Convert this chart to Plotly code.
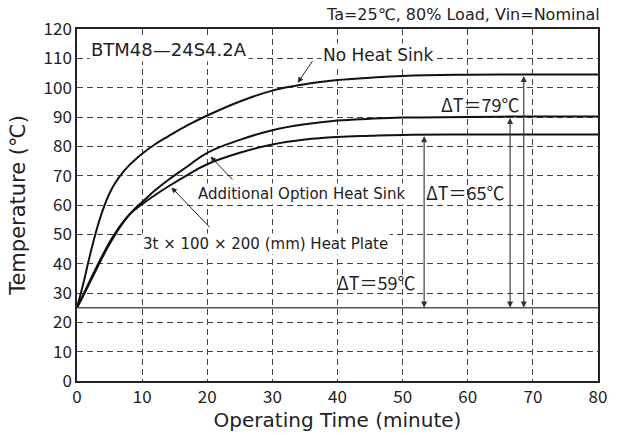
import plotly.graph_objects as go

# ---- data ----
time_min = [0, 1, 2, 3, 4, 5, 6, 7, 8, 9, 10, 12, 14, 17, 20, 25, 30, 35, 40, 45, 50, 60, 70, 80]
no_heat_sink = [25, 33.5, 43, 51.5, 58.5, 64, 68, 71, 73.5, 75.6, 77.5, 80.7, 83.4, 87.2, 90.5, 95.3, 99, 101.2, 102.6, 103.4, 104, 104.4, 104.5, 104.5]
additional_sink = [25, 29.2, 33.7, 38.2, 42.6, 46.7, 50.4, 53.7, 56.6, 59, 61, 65, 68.5, 73.2, 77.8, 82.2, 85.5, 87.5, 88.8, 89.4, 89.8, 90, 90.2, 90.2]
heat_plate = [25, 29.6, 34.3, 38.8, 43.2, 47.3, 50.9, 54, 56.6, 58.6, 60.3, 63.4, 66.3, 70.3, 73.9, 77.8, 80.6, 82.3, 83.2, 83.6, 83.9, 84, 84, 84]
ambient_time = [0, 80]
ambient_temp = [25, 25]
x_ticks = [0, 10, 20, 30, 40, 50, 60, 70, 80]
y_ticks = [0, 10, 20, 30, 40, 50, 60, 70, 80, 90, 100, 110, 120]
delta_labels = ["ΔT＝79℃", "ΔT＝65℃", "ΔT＝59℃"]

FONT = "Noto Sans CJK JP"
TFONT = "DejaVu Sans"
fig = go.Figure()

for ys in (no_heat_sink, additional_sink, heat_plate):
    fig.add_trace(go.Scatter(x=time_min, y=ys, mode="lines",
                             line=dict(color="#111111", width=2, shape="spline", smoothing=1.2),
                             hoverinfo="skip", showlegend=False))
fig.add_trace(go.Scatter(x=ambient_time, y=ambient_temp, mode="lines",
                         line=dict(color="#555555", width=1.5), hoverinfo="skip", showlegend=False))

ann = []
# ΔT double arrows
for xpos, top in ((68.6, no_heat_sink[-1]), (66.5, additional_sink[-1]), (53.3, heat_plate[-1])):
    ann.append(dict(x=xpos, y=ambient_temp[0], ax=xpos, ay=top, xref="x", yref="y", axref="x", ayref="y",
                    showarrow=True, arrowhead=2, startarrowhead=2, arrowside="end+start",
                    arrowsize=1.1, startarrowsize=1.1, arrowwidth=1.1, arrowcolor="#333333", text=""))
# ΔT labels
for lab, xr, yv in zip(delta_labels, (68.4, 66.1, 52.3), (94.6, 64.3, 33.9)):
    ann.append(dict(x=xr, y=yv, xref="x", yref="y", xanchor="right", yanchor="middle", text=lab,
                    showarrow=False, font=dict(family=FONT, size=18, color="#222222")))

# curve pointer arrows
for hx, hy, tx, ty in ((33.9, 101.7, 36.3, 109.5), (20.5, 76.5, 24.1, 68.2), (14.5, 66.0, 20.6, 51.9)):
    ann.append(dict(x=hx, y=hy, ax=tx, ay=ty, xref="x", yref="y", axref="x", ayref="y",
                    showarrow=True, arrowhead=2, arrowsize=1.1, arrowwidth=1, arrowcolor="#222222", text=""))

texts = [
    ("No Heat Sink", 37.4, 111.2, 17),
    ("Additional Option Heat Sink", 18.2, 63.7, 15),
    ("3t × 100 × 200 (mm) Heat Plate", 9.9, 46.8, 15),
    ("BTM48—24S4.2A", 1.9, 112.9, 18),
]
for t, xv, yv, fs in texts:
    ann.append(dict(x=xv, y=yv, xref="x", yref="y", xanchor="left", yanchor="middle", text=t,
                    showarrow=False, font=dict(family=TFONT, size=fs, color="#222222"),
                    bgcolor="white", borderpad=1))

ann.append(dict(x=1.0, y=1.0, xref="paper", yref="paper", xanchor="right", yanchor="bottom", yshift=3,
                xshift=4, text="Ta=25℃, 80% Load, Vin=Nominal", showarrow=False,
                font=dict(family=TFONT, size=16, color="#222222")))

axis_common = dict(showline=True, linecolor="#222222", linewidth=1.5, mirror=True,
                   showgrid=True, gridcolor="#444444", gridwidth=1, griddash="6px,4px",
                   zeroline=False, ticks="", tickfont=dict(family=FONT, size=17, color="#222222"))

fig.update_xaxes(range=[0, 80], tickvals=x_ticks,
                 title=dict(text="Operating Time (minute)", font=dict(family=TFONT, size=20, color="#222222"),
                            standoff=2),
                 **axis_common)
fig.update_yaxes(range=[0, 120], tickvals=y_ticks,
                 title=dict(text="Temperature (℃)", font=dict(family=TFONT, size=21, color="#222222"),
                            standoff=12),
                 **axis_common)

fig.update_layout(width=618, height=435, margin=dict(l=77, r=11, t=29, b=52),
                  paper_bgcolor="white", plot_bgcolor="white", annotations=ann,
                  font=dict(family=FONT))
fig.write_html("out.html")
